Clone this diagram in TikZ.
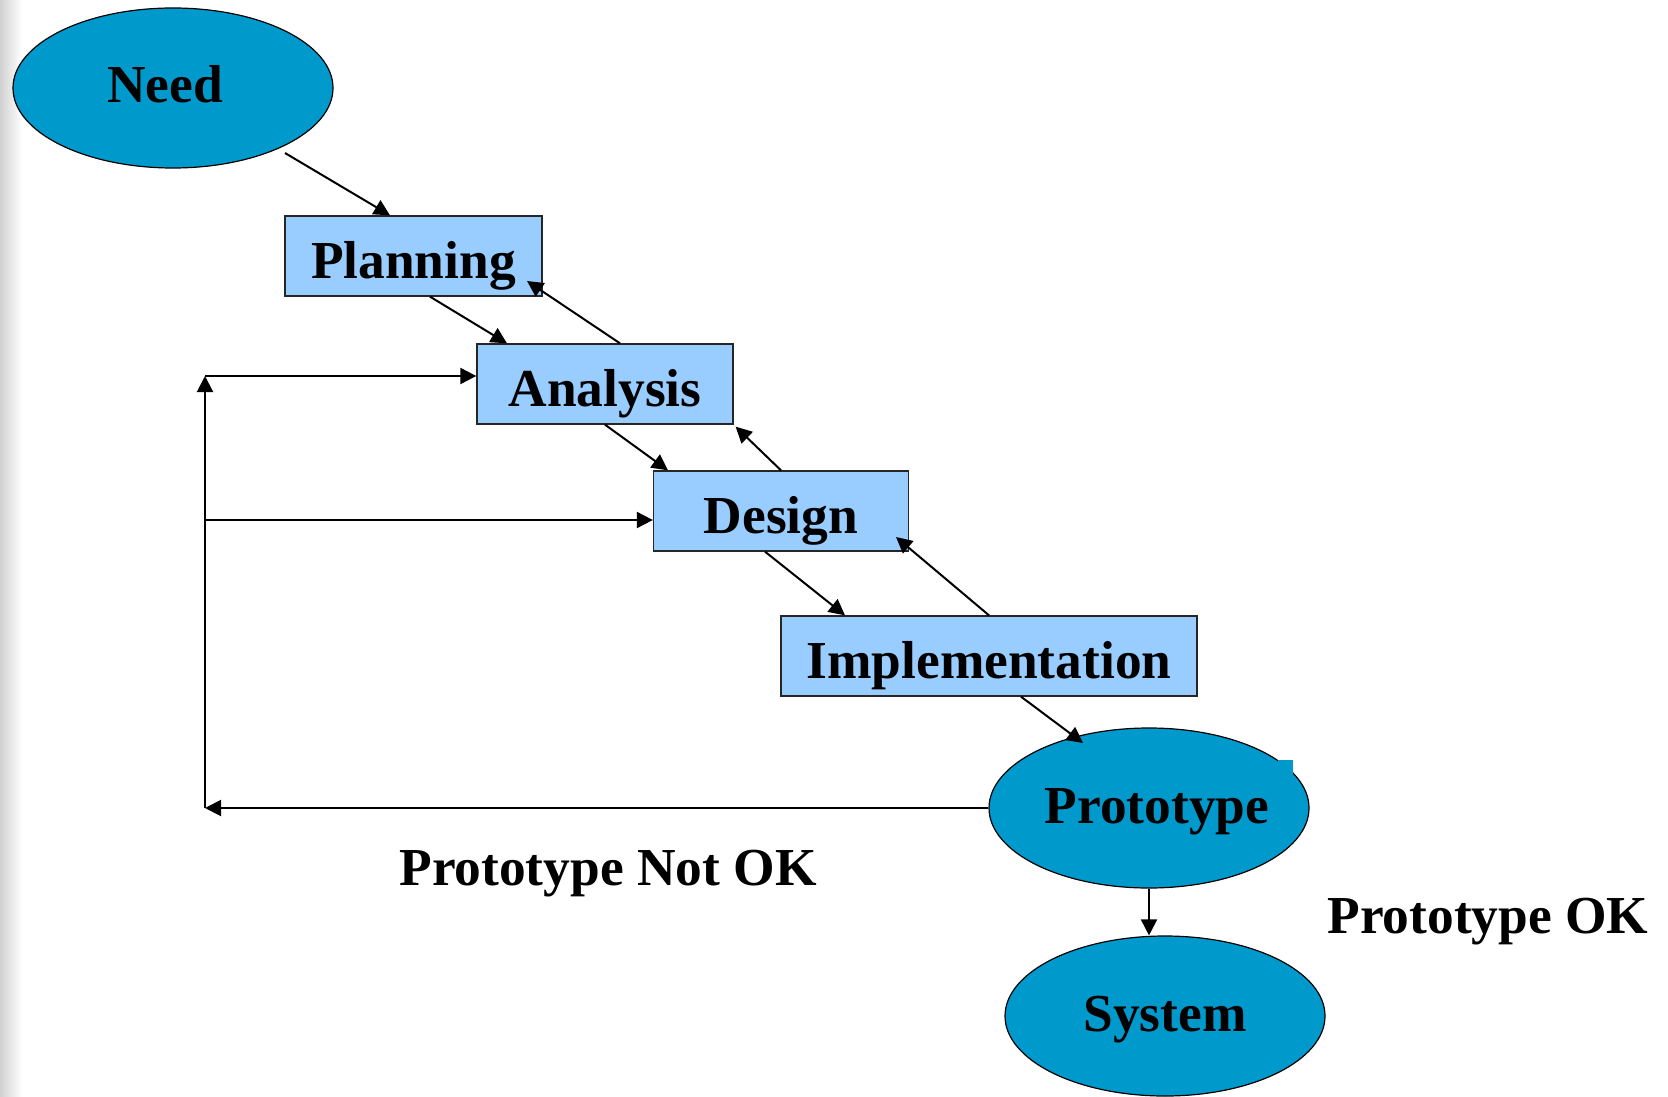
\documentclass[tikz,border=0pt]{standalone}
\usepackage{fontspec}
\setmainfont{Liberation Serif}
\usetikzlibrary{arrows.meta,shapes.geometric,calc}
\definecolor{ovalblue}{HTML}{0099CC}
\definecolor{boxblue}{HTML}{99CCFF}
\begin{document}
\begin{tikzpicture}[x=0.5pt,y=-0.5pt,
  oval/.style={ellipse, draw=black, line width=0.6pt, fill=ovalblue, minimum width=160pt, minimum height=80pt, inner sep=0pt, text height=15pt, text depth=0pt},
  stage/.style={rectangle, draw=black!85, line width=0.65pt, fill=boxblue, minimum height=40pt, inner sep=0pt, text height=22.5pt, text depth=0pt},
  arr/.style={-{Triangle[length=8pt,width=8pt]}, line width=1pt},
  lbl/.style={inner sep=0pt},
  font=\fontsize{26.7}{30}\selectfont\bfseries]
\useasboundingbox (0,0) rectangle (1668,1096);
\shade[left color=black!18, right color=white] (0,0) rectangle (22,1096);
% nodes
\node[oval] (need) at (173,88) {\hspace*{-8pt}Need};
\node[stage, minimum width=128.5pt] (planning) at (413.5,256) {Planning};
\node[stage, minimum width=128pt] (analysis) at (605,384) {Analysis};
\node[stage, minimum width=127.5pt] (design) at (781,511) {Design};
\node[stage, minimum width=208pt] (impl) at (989,656) {Implementation};
\node[oval] (proto) at (1149,808) {Prototype\hspace*{-8pt}};
\fill[ovalblue] (1278,760) rectangle (1293,776);
\node[oval] (system) at (1165,1016) {System};
\node[lbl] (notok) at (608,874) {Prototype Not OK};
\node[lbl] (ok) at (1488,922) {Prototype OK};
% feedback coordinates
\coordinate (fb) at (205,808);
\coordinate (ftop) at (205,376);
\coordinate (fmid) at (205,520);
% connectors
\draw[arr] ([shift={(112,65)}]need.center) -- ([shift={(-23.5,0)}]planning.north);
\draw[arr] ([shift={(16.5,0)}]planning.south) -- ([shift={(-98,0)}]analysis.north);
\draw[arr] ([shift={(15,0)}]analysis.north) -- ([shift={(113.5,25)}]planning.center);
\draw[arr] (analysis.south) -- ([shift={(-113,0)}]design.north);
\draw[arr] (design.north) -- ([shift={(2,2)}]analysis.south east);
\draw[arr] ([shift={(-16,0)}]design.south) -- ([shift={(-144,0)}]impl.north);
\draw[arr] (impl.north) -- ([shift={(115,26)}]design.center);
\draw[arr] ([shift={(32,0)}]impl.south) -- ([shift={(-66,-65)}]proto.center);
\draw[arr] (proto.west) -- (fb);
\draw[arr] (fb) -- (ftop);
\draw[arr] (ftop) -- (ftop -| analysis.west);
\draw[arr] (fmid) -- (fmid -| design.west);
\draw[arr] (proto.south) -- (proto.south |- system.north);
\end{tikzpicture}
\end{document}
